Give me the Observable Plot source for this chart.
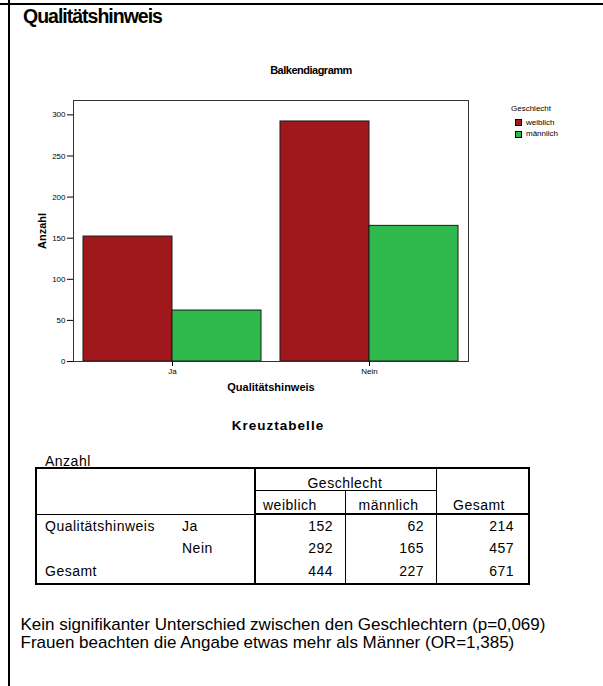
<!DOCTYPE html>
<html>
<head>
<meta charset="utf-8">
<script src="https://cdn.jsdelivr.net/npm/d3@7"></script>
<script src="https://cdn.jsdelivr.net/npm/@observablehq/plot@0.6"></script>
<style>
  html, body { margin: 0; padding: 0; background: #fff; }
  #page { position: relative; width: 603px; height: 686px; overflow: hidden; background: #fff;
          font-family: "Liberation Sans", Arial, sans-serif; color: #000; }
  .t { position: absolute; white-space: nowrap; }
  .ln { position: absolute; background: #000; }
  #chart { position: absolute; left: 0; top: 0; }
</style>
</head>
<body>
<div id="page"><div id="chart"></div></div>
<script>
// ---- data ----
const pageTitle = "Qualitätshinweis";
const chartTitle = "Balkendiagramm";
const categories = ["Ja", "Nein"];
const groups = ["weiblich", "männlich"];
const weiblich = [152, 292];
const maennlich = [62, 165];
const rowTotals = [214, 457];
const colTotals = [444, 227];
const grandTotal = 671;
const yTicks = [0, 50, 100, 150, 200, 250, 300];
const colors = ["#a0181c", "#2fb84b"];
const xLabel = "Qualitätshinweis";
const yLabel = "Anzahl";
const legendTitle = "Geschlecht";
const tableTitle = "Kreuztabelle";
const tableSub = "Anzahl";
const totalLabel = "Gesamt";
const notes = [
  "Kein signifikanter Unterschied zwischen den Geschlechtern (p=0,069)",
  "Frauen beachten die Angabe etwas mehr als Männer (OR=1,385)"
];

const rows = [];
categories.forEach((c, i) => {
  rows.push({q: c, g: groups[0], n: weiblich[i]});
  rows.push({q: c, g: groups[1], n: maennlich[i]});
});

const page = document.getElementById("page");

function txt(s, x, base, size, opts = {}) {
  const d = document.createElement("div");
  d.className = "t";
  d.textContent = s;
  d.style.left = x + "px";
  d.style.top = (base - 0.8465 * size) + "px";
  d.style.fontSize = size + "px";
  d.style.lineHeight = size + "px";
  if (opts.weight) d.style.fontWeight = opts.weight;
  if (opts.ls) d.style.letterSpacing = opts.ls + "px";
  if (opts.anchor === "middle") d.style.transform = "translateX(-50%)";
  if (opts.anchor === "end") d.style.transform = "translateX(-100%)";
  page.appendChild(d);
  return d;
}
function line(x, y, w, h) {
  const d = document.createElement("div");
  d.className = "ln";
  d.style.left = x + "px"; d.style.top = y + "px";
  d.style.width = w + "px"; d.style.height = h + "px";
  page.appendChild(d);
}

// ---- chart ----
const pad = 10; // gap between plot frame and outermost bars
const chart = Plot.plot({
  width: 603,
  height: 400,
  marginTop: 100,
  marginBottom: 39,
  marginLeft: 83,
  marginRight: 145,
  style: {fontFamily: "'Liberation Sans', Arial, sans-serif", fontSize: "8px", color: "#000", background: "transparent", overflow: "visible"},
  fx: {domain: categories, paddingInner: 0.098, paddingOuter: 0},
  x: {domain: groups, padding: 0, axis: null},
  y: {domain: [0, 317.5]},
  color: {domain: groups, range: colors},
  marks: [
    Plot.barY(rows, {fx: "q", x: "g", y: "n", fill: "g", stroke: "#1a1a1a", strokeWidth: 1, inset: 0}),
    Plot.frame({facet: "super", stroke: "#333", strokeWidth: 1, insetLeft: -pad, insetRight: -pad}),
    Plot.axisY({ticks: yTicks, tickSize: 6, tickPadding: 2, dx: -pad, label: yLabel, labelAnchor: "center", labelArrow: "none", labelOffset: 45}),
    Plot.axisFx({anchor: "bottom", tickSize: 5, tickPadding: 2, label: xLabel, labelAnchor: "center", labelArrow: "none", labelOffset: 29})
  ]
});
document.getElementById("chart").appendChild(chart);
d3.select(chart).selectAll('g[aria-label="y-axis label"] text, g[aria-label="fx-axis label"] text')
  .attr("font-weight", "bold").attr("font-size", 11);

// ---- page texts ----
txt(pageTitle, 23, 24, 19.5, {weight: "bold", ls: -1});
txt(chartTitle, 311, 74, 11, {weight: "bold", anchor: "middle", ls: -0.5});

// legend
txt(legendTitle, 511, 112, 8);
groups.forEach((g, i) => {
  const y = 119 + i * 11.5;
  const s = document.createElement("div");
  s.style.cssText = `position:absolute;left:515px;top:${y}px;width:5px;height:5px;border:1px solid #000;background:${colors[i]}`;
  page.appendChild(s);
  txt(g, 526, y + 6.5, 8);
});

// ---- table ----
txt(tableTitle, 278, 430, 13.5, {weight: "bold", anchor: "middle", ls: 1});
txt(tableSub, 45, 465.5, 14, {ls: 0.5});
const L = 35, R = 528, T = 467, B = 583, C1 = 254, C2 = 345, C3 = 436;
line(L, T, R - L + 2, 2);       // top
line(L, B, R - L + 2, 2);       // bottom
line(L, T, 2, B - T + 2);       // left
line(R, T, 2, B - T + 2);       // right
line(C1, T, 2, B - T);          // stub divider
line(C3, T, 1, B - T);          // before total
line(C2, 490, 1, B - 490);      // between sexes
line(C1, 490, C3 - C1, 1);      // under Geschlecht
line(L, 514, C1 - L, 1);        // under header (stub)
line(C1, 513, R - C1, 2);       // under header (body)

const ls = 0.5, fs = 14;
txt(legendTitle, (C1 + C3) / 2, 487.5, fs, {anchor: "middle", ls});
txt(groups[0], 263, 510, fs, {ls});
txt(groups[1], (C2 + C3) / 2 - 2, 510, fs, {anchor: "middle", ls});
txt(totalLabel, 479, 510, fs, {anchor: "middle", ls});
const baselines = [531, 553, 575.5];
txt(xLabel, 45, baselines[0], fs, {ls});
categories.forEach((c, i) => {
  txt(c, 182, baselines[i], fs, {ls});
  txt(String(weiblich[i]), 333, baselines[i], fs, {anchor: "end", ls});
  txt(String(maennlich[i]), 424, baselines[i], fs, {anchor: "end", ls});
  txt(String(rowTotals[i]), 514, baselines[i], fs, {anchor: "end", ls});
});
txt(totalLabel, 45, baselines[2], fs, {ls});
txt(String(colTotals[0]), 333, baselines[2], fs, {anchor: "end", ls});
txt(String(colTotals[1]), 424, baselines[2], fs, {anchor: "end", ls});
txt(String(grandTotal), 514, baselines[2], fs, {anchor: "end", ls});

// ---- notes ----
txt(notes[0], 20.5, 630, 17);
txt(notes[1], 20.5, 648, 17);

// page frame lines
line(0, 3, 603, 2);
line(8, 0, 2, 686);
</script>
</body>
</html>
